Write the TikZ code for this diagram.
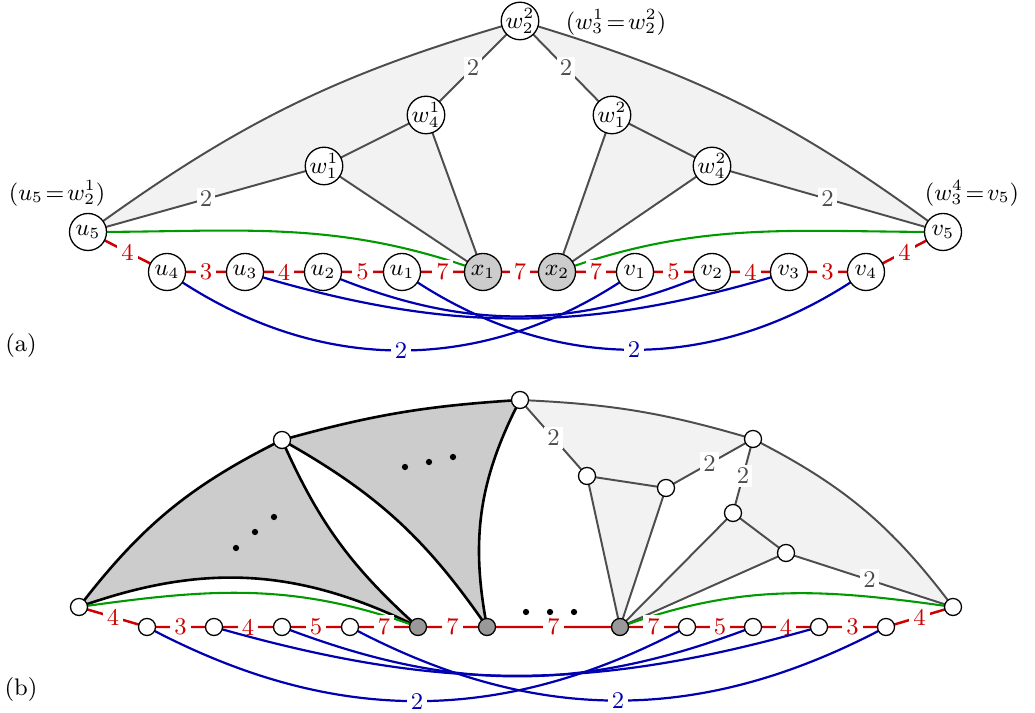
\documentclass[tikz,border=0pt]{standalone}
\usetikzlibrary{backgrounds}
\definecolor{edgegray}{RGB}{77,77,77}
\definecolor{lightfill}{RGB}{242,242,242}
\definecolor{darkfill}{RGB}{204,204,204}
\definecolor{nodegray}{RGB}{153,153,153}
\definecolor{pathred}{RGB}{204,0,0}
\definecolor{pathblue}{RGB}{0,0,178}
\definecolor{pathgreen}{RGB}{0,153,0}
\begin{document}
\begin{tikzpicture}[x=0.0135cm, y=0.0135cm, font=\fontsize{9.2}{11}\selectfont,
    vtx/.style={circle, draw, fill=white, inner sep=0pt, minimum size=0.5cm, line width=0.5pt},
    gvtx/.style={vtx, fill=darkfill},
    svtx/.style={circle, draw, fill=white, inner sep=0pt, minimum size=0.23cm, line width=0.5pt},
    sgvtx/.style={svtx, fill=nodegray},
    dotpt/.style={circle, fill=black, inner sep=0pt, minimum size=0.085cm},
    gedge/.style={draw=edgegray, line width=0.75pt},
    bedge/.style={draw=black, line width=1pt},
    redge/.style={draw=pathred, line width=0.95pt},
    bluedge/.style={draw=pathblue, line width=0.85pt},
    grnedge/.style={draw=pathgreen, line width=0.8pt},
    rlab/.style={fill=white, inner sep=1.5pt, text=pathred},
    glab/.style={fill=white, inner sep=1.2pt, text=edgegray},
    blab/.style={fill=white, inner sep=1.5pt, text=pathblue}]
\useasboundingbox (0,0) rectangle (1035,713);

% ---------- (a) ----------
% Vertices
\node[vtx] (w22) at (520,692) {$w^2_2$};
\node[vtx] (w41) at (426,598) {$w^1_4$};
\node[vtx] (w11) at (324,547) {$w^1_1$};
\node[vtx] (w12) at (612,598) {$w^2_1$};
\node[vtx] (w42) at (712,547) {$w^2_4$};
\node[vtx] (u5) at (88,481) {$u_5$};
\node[vtx] (u4) at (167,441) {$u_4$};
\node[vtx] (u3) at (245,441) {$u_3$};
\node[vtx] (u2) at (323,441) {$u_2$};
\node[vtx] (u1) at (402,441) {$u_1$};
\node[gvtx] (x1) at (483,441) {$x_1$};
\node[gvtx] (x2) at (557,441) {$x_2$};
\node[vtx] (v1) at (635,441) {$v_1$};
\node[vtx] (v2) at (712,441) {$v_2$};
\node[vtx] (v3) at (789,441) {$v_3$};
\node[vtx] (v4) at (866,441) {$v_4$};
\node[vtx] (v5) at (943,481) {$v_5$};
% Annotations
\node (lu5) at (57,520) {$(u_5\!=\!w^1_2)$};
\node (lw22) at (616,691) {$(w^1_3\!=\!w^2_2)$};
\node (lv5) at (972,520) {$(w^4_3\!=\!v_5)$};
\node (la) at (21,367) {(a)};

% ---------- (b) ----------
% Vertices
\node[svtx] (bL) at (79,106) {};
\node[svtx] (bp1) at (147,86) {};
\node[svtx] (bp2) at (214,86) {};
\node[svtx] (bp3) at (282,86) {};
\node[svtx] (bp4) at (350,86) {};
\node[sgvtx] (bg1) at (418,86) {};
\node[sgvtx] (bg2) at (487,86) {};
\node[sgvtx] (bg3) at (620,86) {};
\node[svtx] (bq1) at (687,86) {};
\node[svtx] (bq2) at (753,86) {};
\node[svtx] (bq3) at (819,86) {};
\node[svtx] (bq4) at (886,86) {};
\node[svtx] (bR) at (953,106) {};
\node[svtx] (bP) at (282,273) {};
\node[svtx] (bT) at (520,313) {};
\node[svtx] (bA) at (753,274) {};
\node[svtx] (bB) at (587,237) {};
\node[svtx] (bC) at (666,225) {};
\node[svtx] (bD) at (733,200) {};
\node[svtx] (bE) at (786,160) {};
% Dots
\node[dotpt] (d1) at (236,165) {};
\node[dotpt] (d2) at (255,181) {};
\node[dotpt] (d3) at (274,196) {};
\node[dotpt] (d4) at (405,246) {};
\node[dotpt] (d5) at (429,251) {};
\node[dotpt] (d6) at (453,256) {};
\node[dotpt] (d7) at (526,101) {};
\node[dotpt] (d8) at (550,101) {};
\node[dotpt] (d9) at (574,101) {};
\node (lb) at (21,23) {(b)};

\begin{scope}[on background layer]
% Faces (a)
\fill[lightfill] (u5.center) to[bend left=10] (w22.center) -- (w41.center) -- (x1.center) -- (w11.center) -- cycle;
\fill[lightfill] (w22.center) to[bend left=10] (v5.center) -- (w42.center) -- (x2.center) -- (w12.center) -- cycle;
% Faces (b)
\fill[darkfill] (bL.center) to[bend left=13] (bP.center) to[bend right=12] (bg1.center) to[bend right=23] (bL.center);
\fill[darkfill] (bP.center) to[bend left=6] (bT.center) to[bend right=19] (bg2.center) to[bend right=13] (bP.center);
\fill[lightfill] (bT.center) to[bend left=7] (bA.center) -- (bC.center) -- (bB.center) -- cycle;
\fill[lightfill] (bB.center) -- (bC.center) -- (bg3.center) -- cycle;
\fill[lightfill] (bA.center) to[bend left=13] (bR.center) -- (bE.center) -- (bD.center) -- cycle;
\fill[lightfill] (bD.center) -- (bE.center) -- (bg3.center) -- cycle;

% Gray edges (a)
\draw[gedge] (u5.center) to[bend left=10] (w22.center);
\draw[gedge] (w22.center) to[bend left=10] (v5.center);
\draw[gedge] (u5.center) -- node[glab]{2} (w11.center);
\draw[gedge] (w11.center) -- (w41.center);
\draw[gedge] (w41.center) -- node[glab]{2} (w22.center);
\draw[gedge] (w11.center) -- (x1.center);
\draw[gedge] (w41.center) -- (x1.center);
\draw[gedge] (w22.center) -- node[glab]{2} (w12.center);
\draw[gedge] (w12.center) -- (w42.center);
\draw[gedge] (w42.center) -- node[glab]{2} (v5.center);
\draw[gedge] (w12.center) -- (x2.center);
\draw[gedge] (w42.center) -- (x2.center);

% Black and gray edges (b)
\draw[bedge] (bL.center) to[bend left=13] (bP.center);
\draw[bedge] (bP.center) to[bend right=12] (bg1.center);
\draw[bedge] (bL.center) to[bend left=23] (bg1.center);
\draw[bedge] (bP.center) to[bend left=6] (bT.center);
\draw[bedge] (bT.center) to[bend right=19] (bg2.center);
\draw[bedge] (bP.center) to[bend left=13] (bg2.center);
\draw[gedge] (bT.center) to[bend left=7] (bA.center);
\draw[gedge] (bA.center) to[bend left=13] (bR.center);
\draw[gedge] (bT.center) -- node[glab]{2} (bB.center);
\draw[gedge] (bB.center) -- (bC.center);
\draw[gedge] (bC.center) -- node[glab]{2} (bA.center);
\draw[gedge] (bA.center) -- node[glab]{2} (bD.center);
\draw[gedge] (bD.center) -- (bE.center);
\draw[gedge] (bE.center) -- node[glab]{2} (bR.center);
\draw[gedge] (bB.center) -- (bg3.center);
\draw[gedge] (bC.center) -- (bg3.center);
\draw[gedge] (bD.center) -- (bg3.center);
\draw[gedge] (bE.center) -- (bg3.center);

% Green edges
\draw[grnedge] (u5.center) to[out=0, in=160] (x1.center);
\draw[grnedge] (x2.center) to[out=20, in=180] (v5.center);
\draw[grnedge] (bL.center) to[out=8, in=160] (bg1.center);
\draw[grnedge] (bg3.center) to[out=20, in=172] (bR.center);

% Red paths
\draw[redge] (u5.center) -- node[rlab]{4} (u4.center) -- node[rlab]{3} (u3.center)
  -- node[rlab]{4} (u2.center) -- node[rlab]{5} (u1.center) -- node[rlab]{7} (x1.center)
  -- node[rlab]{7} (x2.center) -- node[rlab]{7} (v1.center) -- node[rlab]{5} (v2.center)
  -- node[rlab]{4} (v3.center) -- node[rlab]{3} (v4.center) -- node[rlab]{4} (v5.center);
\draw[redge] (bL.center) -- node[rlab]{4} (bp1.center) -- node[rlab]{3} (bp2.center)
  -- node[rlab]{4} (bp3.center) -- node[rlab]{5} (bp4.center) -- node[rlab]{7} (bg1.center)
  -- node[rlab]{7} (bg2.center) -- node[rlab]{7} (bg3.center) -- node[rlab]{7} (bq1.center)
  -- node[rlab]{5} (bq2.center) -- node[rlab]{4} (bq3.center) -- node[rlab]{3} (bq4.center)
  -- node[rlab]{4} (bR.center);

% Blue edges
\draw[bluedge] (u4.center) to[out=-35, in=-145] node[blab]{2} (v1.center);
\draw[bluedge] (u1.center) to[out=-35, in=-145] node[blab]{2} (v4.center);
\draw[bluedge] (u3.center) to[out=-17, in=-163] (v3.center);
\draw[bluedge] (u2.center) to[out=-23, in=-157] (v2.center);
\draw[bluedge] (bp1.center) to[out=-28, in=-152] node[blab]{2} (bq1.center);
\draw[bluedge] (bp4.center) to[out=-28, in=-152] node[blab]{2} (bq4.center);
\draw[bluedge] (bp2.center) to[out=-16, in=-164] (bq3.center);
\draw[bluedge] (bp3.center) to[out=-21, in=-159] (bq2.center);
\end{scope}
\end{tikzpicture}
\end{document}
